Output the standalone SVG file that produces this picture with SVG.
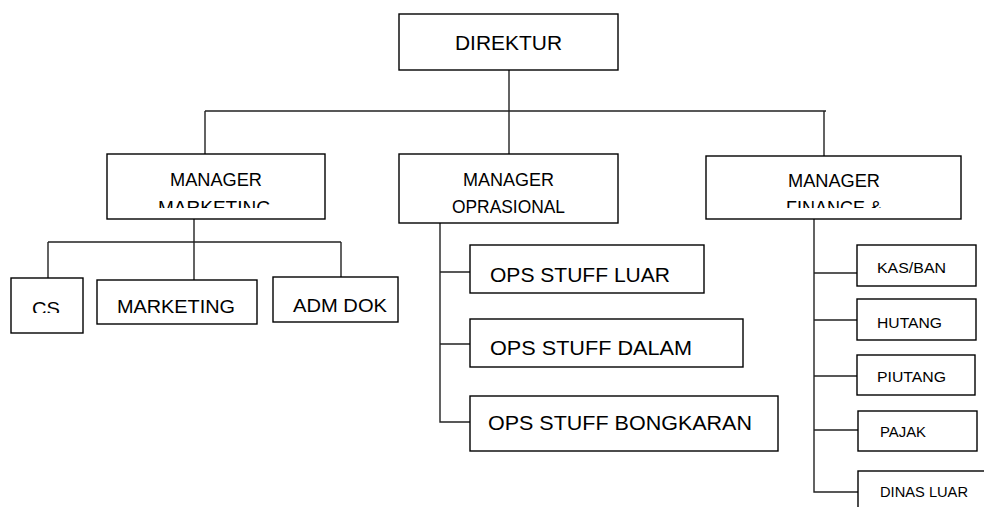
<svg xmlns="http://www.w3.org/2000/svg" width="984" height="507" viewBox="0 0 984 507">
<style>
.box{fill:#fff;stroke:#000;stroke-width:1.4}
.ln{fill:none;stroke:#222;stroke-width:1.4}
text{font-family:"Liberation Sans",Arial,sans-serif;fill:#000}
.t21{font-size:21px}
.t20{font-size:19px}
.t18{font-size:18.5px}
.t15{font-size:15px}
</style>
<defs>
<clipPath id="clipMkt"><rect x="107" y="154" width="218" height="54"/></clipPath>
<clipPath id="clipFin"><rect x="706" y="156" width="255" height="52"/></clipPath>
<clipPath id="clipCS"><rect x="11" y="278" width="72" height="35"/></clipPath>
</defs>
<rect width="984" height="507" fill="#fff"/>
<g id="connectors">
<path class="ln" d="M509,70V111M205,111H826M205,111V154M509,111V154M824,111V156"/>
<path class="ln" d="M194,219V280M48,242H341M48,242V278M341,242V277"/>
<path class="ln" d="M440,223V422H470M440,272H470M440,344H470"/>
<path class="ln" d="M814,219V492H858M814,273H857M814,320H857M814,376H857M814,430H858"/>
</g>
<g id="direktur"><rect class="box" x="399" y="14" width="219" height="56"/><text class="t21" x="455" y="50" textLength="107" lengthAdjust="spacingAndGlyphs">DIREKTUR</text></g>
<g id="mgr-marketing"><rect class="box" x="107" y="154" width="218" height="65"/><g clip-path="url(#clipMkt)"><text class="t18" x="170" y="186" textLength="92" lengthAdjust="spacingAndGlyphs">MANAGER</text><text class="t18" x="158" y="214" textLength="113" lengthAdjust="spacingAndGlyphs">MARKETING</text></g></g>
<g id="mgr-oprasional"><rect class="box" x="399" y="154" width="219" height="69"/><text class="t18" x="463" y="186" textLength="91" lengthAdjust="spacingAndGlyphs">MANAGER</text><text class="t18" x="452" y="213" textLength="113" lengthAdjust="spacingAndGlyphs">OPRASIONAL</text></g>
<g id="mgr-finance"><rect class="box" x="706" y="156" width="255" height="63"/><g clip-path="url(#clipFin)"><text class="t18" x="788" y="187" textLength="92" lengthAdjust="spacingAndGlyphs">MANAGER</text><text class="t18" x="786" y="214" textLength="96" lengthAdjust="spacingAndGlyphs">FINANCE &amp;</text></g></g>
<g id="cs"><rect class="box" x="11" y="278" width="72" height="55"/><g clip-path="url(#clipCS)"><text class="t20" x="32" y="315" textLength="28" lengthAdjust="spacingAndGlyphs">CS</text></g></g>
<g id="marketing"><rect class="box" x="97" y="280" width="160" height="44"/><text class="t20" x="117" y="313" textLength="118" lengthAdjust="spacingAndGlyphs">MARKETING</text></g>
<g id="adm-dok"><rect class="box" x="273" y="277" width="125" height="45"/><text class="t20" x="293" y="312" textLength="94" lengthAdjust="spacingAndGlyphs">ADM DOK</text></g>
<g id="ops-luar"><rect class="box" x="470" y="245" width="234" height="48"/><text class="t21" x="490" y="282" textLength="180" lengthAdjust="spacingAndGlyphs">OPS STUFF LUAR</text></g>
<g id="ops-dalam"><rect class="box" x="470" y="319" width="273" height="48"/><text class="t21" x="490" y="355" textLength="202" lengthAdjust="spacingAndGlyphs">OPS STUFF DALAM</text></g>
<g id="ops-bongkaran"><rect class="box" x="470" y="396" width="308" height="55"/><text class="t21" x="488" y="430" textLength="264" lengthAdjust="spacingAndGlyphs">OPS STUFF BONGKARAN</text></g>
<g id="kas-ban"><rect class="box" x="857" y="245" width="119" height="41"/><text class="t15" x="877" y="273" textLength="69" lengthAdjust="spacingAndGlyphs">KAS/BAN</text></g>
<g id="hutang"><rect class="box" x="857" y="299" width="119" height="41"/><text class="t15" x="877" y="328" textLength="65" lengthAdjust="spacingAndGlyphs">HUTANG</text></g>
<g id="piutang"><rect class="box" x="857" y="355" width="118" height="40"/><text class="t15" x="877" y="382" textLength="69" lengthAdjust="spacingAndGlyphs">PIUTANG</text></g>
<g id="pajak"><rect class="box" x="858" y="411" width="119" height="40"/><text class="t15" x="880" y="437" textLength="46" lengthAdjust="spacingAndGlyphs">PAJAK</text></g>
<g id="dinas-luar"><rect class="box" x="858" y="471" width="140" height="50"/><text class="t15" x="880" y="497" textLength="88" lengthAdjust="spacingAndGlyphs">DINAS LUAR</text></g>
</svg>
